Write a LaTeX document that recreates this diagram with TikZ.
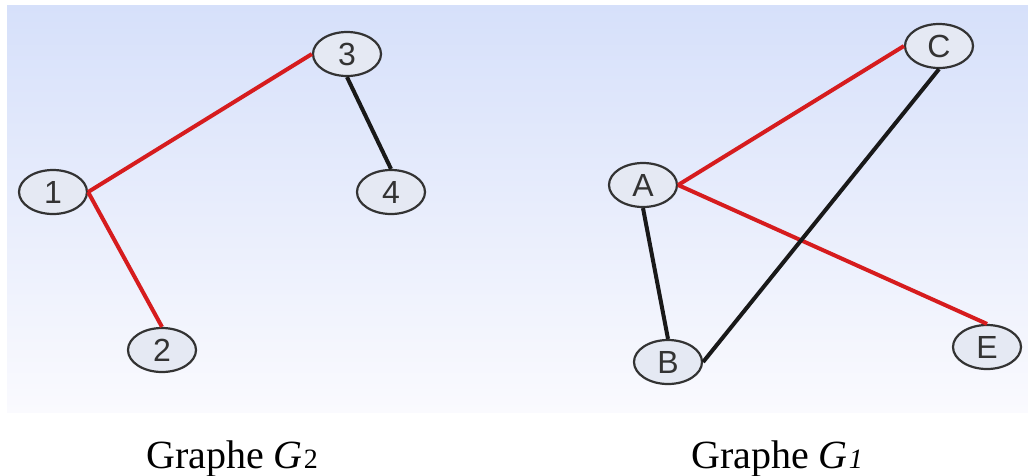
\documentclass[tikz,border=0pt]{standalone}
\usepackage{fontspec}
\setmainfont{Liberation Serif}
\newfontfamily\labelfont{Liberation Sans}
\usetikzlibrary{shapes.geometric}
\begin{document}
\begin{tikzpicture}[x=1pt,y=-1pt,
  vertex/.style={ellipse,draw=black!80,line width=2.2pt,fill=vfill,
    minimum width=68pt,minimum height=44pt,inner sep=0pt,
    font=\labelfont\fontsize{32}{32}\selectfont,text=black!80},
  redge/.style={draw=edgered,line width=4pt},
  bedge/.style={draw=black!90,line width=4pt},
  caption/.style={font=\fontsize{40}{40}\selectfont,anchor=base}]
\definecolor{vfill}{RGB}{229,233,243}
\definecolor{edgered}{RGB}{214,28,30}
\definecolor{paneltop}{RGB}{214,224,250}
\definecolor{panelbot}{RGB}{250,250,254}
\useasboundingbox (0,0) rectangle (1028,475);
\fill[white] (0,0) rectangle (1028,475);
% shaded panel behind both graphs
\shade[top color=paneltop,bottom color=panelbot] (7,5) rectangle (1028,412);

% graph G2
\node[vertex] (n3) at (347,54) {3};
\node[vertex] (n1) at (53,192) {1};
\node[vertex] (n4) at (391,192) {4};
\node[vertex] (n2) at (162,350) {2};
% graph G1
\node[vertex] (nC) at (939,46) {C};
\node[vertex] (nA) at (643,185) {A};
\node[vertex] (nB) at (668,362) {B};
\node[vertex] (nE) at (987,347) {E};

% edges
\draw[redge] (n1.east) -- (n3.west);
\draw[redge] (n1.east) -- (n2.north);
\draw[bedge] (n3.south) -- (n4.north);
\draw[redge] (nA.east) -- (nC.west);
\draw[redge] (nA.east) -- (nE.north);
\draw[bedge] (nA.south) -- (nB.north);
\draw[bedge] (nB.east) -- (nC.south);

% captions
\node[caption] (capA) at (232,468) {Graphe \textit{G}\kern1pt{\fontsize{28}{28}\selectfont 2}};
\node[caption] (capB) at (777,468) {Graphe \textit{G}\kern1pt{\fontsize{28}{28}\selectfont\textit{1}}};
\end{tikzpicture}
\end{document}
